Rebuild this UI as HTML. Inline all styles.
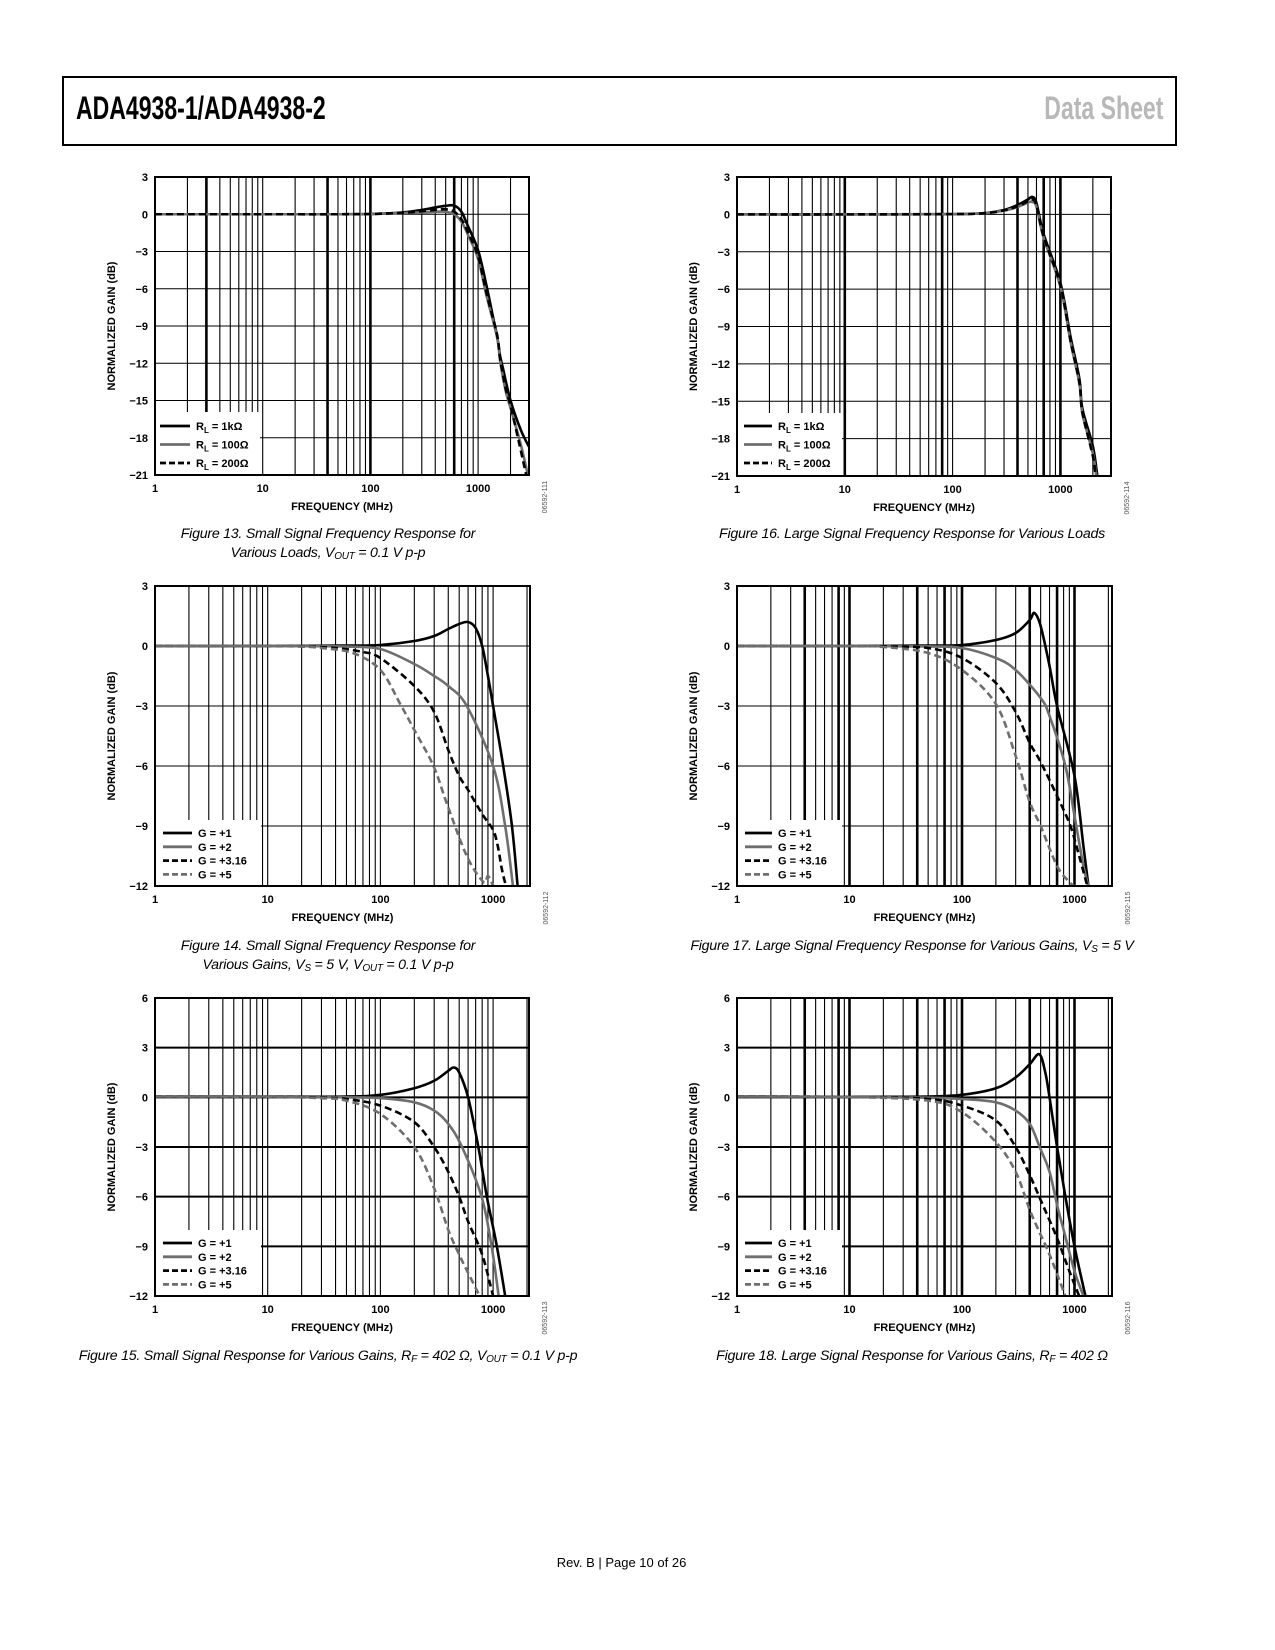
<!DOCTYPE html>
<html><head><meta charset="utf-8">
<style>
html,body{margin:0;padding:0;background:#fff;}
body{width:1275px;height:1650px;position:relative;overflow:hidden;font-family:"Liberation Sans",sans-serif;}
#hdr{position:absolute;left:62px;top:76px;width:1111px;height:66px;border:2px solid #000;}
#title{position:absolute;left:12px;top:12px;font-weight:bold;font-size:32px;transform:scaleX(0.72);transform-origin:left top;letter-spacing:0px;white-space:nowrap;}
#ds{position:absolute;right:12px;top:12px;font-weight:bold;font-size:32px;color:#b8b8b8;transform:scaleX(0.72);transform-origin:right top;white-space:nowrap;}
#footer{position:absolute;left:0;width:1243px;top:1555px;text-align:center;font-size:13px;}
svg{position:absolute;left:0;top:0;}
.cap{font-family:"Liberation Sans",sans-serif;font-style:italic;font-size:14.2px;letter-spacing:-0.25px;}
</style></head>
<body>
<div id="hdr">
  <div id="title">ADA4938-1/ADA4938-2</div>
  <div id="ds">Data Sheet</div>
</div>
<div id="footer">Rev. B | Page 10 of 26</div>
<svg id="page" width="1275" height="1650" xmlns="http://www.w3.org/2000/svg"></svg>
<script>
// ---------- Figure 13 ----------
const f13_freq_1k   = [1,10,50,100,200,300,400,500,600,700,800,1000,1200,1400,1500,1600,1700,2000,2500,3000];
const f13_gain_1k   = [0,0,0,0.02,0.15,0.35,0.55,0.68,0.7,0.2,-0.9,-2.9,-5.8,-8.6,-9.8,-11.4,-12.4,-15,-17.4,-18.8];
const f13_freq_100  = [1,10,50,100,200,300,400,500,600,700,800,1000,1200,1500,1600,1800,2000,2500,2900];
const f13_gain_100  = [0,0,0,0.02,0.1,0.15,0.2,0.2,0,-0.6,-1.6,-3.6,-6.6,-9.9,-11.8,-14.2,-15.6,-18.6,-21];
const f13_freq_200  = [1,10,50,100,200,300,400,500,600,700,800,1000,1200,1500,1600,1800,2000,2400,2800];
const f13_gain_200  = [0,0,0,0.02,0.12,0.25,0.35,0.4,0.2,-0.4,-1.4,-3.4,-6.4,-9.7,-11.6,-14,-15.4,-18.4,-21];
// ---------- Figure 14 ----------
const f14_freq_g1   = [1,10,50,100,200,300,400,500,600,700,800,900,1000,1230,1470,1650];
const f14_gain_g1   = [0,0,0.02,0.05,0.25,0.5,0.85,1.1,1.2,0.9,0,-1.5,-3,-6,-9,-12];
const f14_freq_g2   = [1,10,30,50,100,200,300,400,584,1000,1280,1500];
const f14_gain_g2   = [0,0,-0.01,-0.03,-0.15,-0.9,-1.5,-2.0,-3,-6,-9,-12];
const f14_freq_g316 = [1,10,20,40,70,100,200,300,400,500,600,800,1000,1100,1200,1300];
const f14_gain_g316 = [0,0,-0.02,-0.1,-0.3,-0.6,-2,-3.3,-5.2,-6.5,-7.2,-8.4,-9.2,-10,-11.2,-12];
const f14_freq_g5   = [1,10,20,30,57,100,150,200,296,390,584,820,900,1000];
const f14_gain_g5   = [0,0,-0.03,-0.1,-0.35,-1.2,-2.9,-4.2,-6,-7.9,-10.5,-11.8,-11.5,-12];
// ---------- Figure 15 ----------
const f15_freq_g1   = [1,10,50,100,200,300,400,446,500,600,740,880,1080,1280];
const f15_gain_g1   = [0.05,0.05,0.05,0.15,0.55,1.0,1.6,1.8,1.5,0,-3,-6,-9,-12];
const f15_freq_g2   = [1,10,50,100,200,300,400,530,790,970,1120];
const f15_gain_g2   = [0.05,0.05,0,-0.05,-0.3,-0.8,-1.6,-3,-6,-9,-12];
const f15_freq_g316 = [1,10,30,50,100,200,300,400,500,600,800,1000];
const f15_gain_g316 = [0.05,0.03,-0.02,-0.1,-0.5,-1.5,-3,-4.5,-6,-7.5,-9.5,-12];
const f15_freq_g5   = [1,10,30,50,100,200,300,400,500,600,800];
const f15_gain_g5   = [0.05,0.03,-0.05,-0.2,-1.0,-3,-5.5,-8,-9.5,-10.6,-12.3];
// ---------- Figure 16 ----------
const f16_freq_1k   = [1,10,100,200,300,400,500,550,600,700,1000,1240,1500,1600,2000,2200];
const f16_gain_1k   = [0,0,0.02,0.1,0.35,0.75,1.2,1.4,0.9,-1.6,-5.5,-9.8,-13.2,-15.6,-18.6,-21];
const f16_freq_100  = [1,10,100,200,300,400,500,550,600,700,1000,1240,1500,1600,2000,2150];
const f16_gain_100  = [0,0,0.02,0.1,0.3,0.6,0.95,1.0,0.6,-1.9,-5.8,-10.2,-13.6,-16.0,-19.2,-21];
const f16_freq_200  = [1,10,100,200,300,400,500,550,600,700,1000,1240,1500,1600,2000,2120];
const f16_gain_200  = [0,0,0.02,0.1,0.32,0.65,1.05,1.2,0.7,-1.8,-5.7,-10.1,-13.5,-15.9,-19.4,-21];
// ---------- Figure 17 ----------
const f17_freq_g1   = [1,10,50,100,200,300,400,440,500,600,700,1000,1200,1330];
const f17_gain_g1   = [0,0,0.02,0.05,0.3,0.65,1.3,1.65,1.0,-1,-3,-6.5,-10,-12];
const f17_freq_g2   = [1,10,50,100,200,300,500,600,830,1000,1200,1330];
const f17_gain_g2   = [0,0,-0.02,-0.1,-0.6,-1.2,-2.6,-3.5,-6,-8.5,-11,-12];
const f17_freq_g316 = [1,10,20,50,100,200,300,400,500,700,920,1100,1300];
const f17_gain_g316 = [0,0,-0.02,-0.1,-0.6,-1.85,-3.3,-4.85,-5.8,-7.5,-9,-10.5,-12];
const f17_freq_g5   = [1,10,20,50,100,200,300,400,500,700,900,1000];
const f17_gain_g5   = [0,0,-0.05,-0.35,-1.2,-2.9,-5.5,-7.8,-9,-11,-11.8,-12];
// ---------- Figure 18 ----------
const f18_freq_g1   = [1,10,50,100,200,300,400,487,550,600,700,830,1000,1250];
const f18_gain_g1   = [0.05,0.03,0.05,0.15,0.55,1.2,2.0,2.6,1.5,0,-3,-6,-9,-12];
const f18_freq_g2   = [1,10,50,100,200,300,400,490,600,700,800,1000,1200];
const f18_gain_g2   = [0.05,0.02,-0.02,-0.1,-0.3,-0.8,-1.6,-3,-4.5,-6.5,-8,-10.5,-12];
const f18_freq_g316 = [1,10,50,100,200,300,400,500,700,900,1100];
const f18_gain_g316 = [0.05,0.02,-0.1,-0.5,-1.4,-3,-4.7,-6.2,-8.5,-10.5,-12];
const f18_freq_g5   = [1,10,50,100,200,300,400,500,600,830];
const f18_gain_g5   = [0.05,0.02,-0.2,-0.9,-2.7,-4.5,-6.8,-8.3,-9.5,-12];

const xTickLabels = ["1","10","100","1000"];
const yTicks_21 = [3,0,-3,-6,-9,-12,-15,-18,-21];
const yTicks_12 = [3,0,-3,-6,-9,-12];
const yTicks_6  = [6,3,0,-3,-6,-9,-12];
const legendLoads = ["1kΩ","100Ω","200Ω"];
const legendGains = ["G = +1","G = +2","G = +3.16","G = +5"];

const NS = "http://www.w3.org/2000/svg";
const svg = document.getElementById('page');
function mk(tag, attrs, parent){
  const e = document.createElementNS(NS, tag);
  for (const k in attrs) e.setAttribute(k, attrs[k]);
  (parent||svg).appendChild(e);
  return e;
}
const STY = [
  {stroke:'#000', dash:null},
  {stroke:'#6e6e6e', dash:null},
  {stroke:'#000', dash:'7,4'},
  {stroke:'#6e6e6e', dash:'7,4'}
];

function chart(cfg){
  const g = mk('g', {});
  
  
  const L=cfg.left, T=cfg.top, W=cfg.width, H=cfg.height;
  const dec = cfg.decade;
  const xs = f => L + dec*Math.log10(f);
  const ys = v => T + (cfg.ymax - v)/(cfg.ymax - cfg.ymin)*H;
  const xmax = Math.pow(10, W/dec);
  const legTop = T + H - cfg.legH, legRight = L + cfg.legW;
  const cid = 'clip'+cfg.name;
  const cp = mk('clipPath', {id:cid}, g); mk('rect',{x:L,y:T,width:W,height:H},cp);
  for (let d=0; d<4; d++) for (let m=1; m<10; m++){
    const f = m*Math.pow(10,d);
    if (f<=1 || f>=xmax) continue;
    const x = xs(f);
    const thick = cfg.thick.indexOf(f)>=0;
    const y2 = x < legRight ? legTop : T+H;
    const ln = mk('line',{x1:x,x2:x,y1:T,y2:y2,stroke:'#000','stroke-width':thick?2.6:1.1},g);
    
    
  }
  cfg.yticks.forEach(v=>{
    const y = ys(v);
    const x1 = y > legTop ? legRight : L;
    const ln = mk('line',{x1:x1,x2:L+W,y1:y,y2:y,stroke:'#000','stroke-width':cfg.hw},g);
    
    
    const t = mk('text',{x:L-7,y:y+4,'text-anchor':'end','font-size':'11','font-weight':'bold'},g);
    t.textContent = (v<0?'\u2212'+(-v):''+v);
    
    
  });
  xTickLabels.forEach((s,i)=>{
    const t = mk('text',{x:xs(Math.pow(10,i)),y:T+H+17,'text-anchor':'middle','font-size':'11','font-weight':'bold'},g);
    t.textContent = s;
    
    
  });
  cfg.series.forEach((s,i)=>{
    const pts = s.f.map((f,j)=>[xs(f), ys(s.v[j])]);
    let d = 'M'+pts[0][0]+','+pts[0][1];
    for (let j=0;j<pts.length-1;j++){
      const p0=pts[Math.max(0,j-1)], p1=pts[j], p2=pts[j+1], p3=pts[Math.min(pts.length-1,j+2)];
      const c1=[p1[0]+(p2[0]-p0[0])/6, p1[1]+(p2[1]-p0[1])/6];
      const c2=[p2[0]-(p3[0]-p1[0])/6, p2[1]-(p3[1]-p1[1])/6];
      d += ' C'+c1[0]+','+c1[1]+' '+c2[0]+','+c2[1]+' '+p2[0]+','+p2[1];
    }
    const st = STY[s.style];
    const p = mk('path',{d:d,fill:'none',stroke:st.stroke,'stroke-width':2.6,'clip-path':'url(#'+cid+')'},g);
    if (st.dash) p.setAttribute('stroke-dasharray', st.dash);
    
    
  });
  const b = mk('rect',{x:L,y:T,width:W,height:H,fill:'none',stroke:'#000','stroke-width':2},g);
  
  
  const lg = mk('g',{},g);
  
  
  cfg.series.forEach((s,i)=>{
    const y = cfg.legY0 + i*cfg.legDy;
    const st = STY[s.style];
    const ln = mk('line',{x1:L+cfg.legX1,x2:L+cfg.legX2,y1:y,y2:y,stroke:st.stroke,'stroke-width':2.8},lg);
    if (st.dash) ln.setAttribute('stroke-dasharray','6,3');
    
    
    const t = mk('text',{x:L+cfg.legX2+6,y:y+4,'font-size':'11','font-weight':'bold'},lg);
    if (cfg.loads){
      t.appendChild(document.createTextNode('R'));
      const sub = mk('tspan',{dy:3,'font-size':'8'},t); sub.textContent='L';
      const rest = mk('tspan',{dy:-3},t); rest.textContent=' = '+s.label;
    } else t.textContent = s.label;
    
    
  });
  const xt = mk('text',{x:L+W/2,y:T+H+35,'text-anchor':'middle','font-size':'11','font-weight':'bold'},g);
  xt.textContent='FREQUENCY (MHz)';
  
  
  const yx = L-40, yy = T+H/2;
  const yt = mk('text',{x:yx,y:yy,'text-anchor':'middle','font-size':'11','font-weight':'bold',transform:'rotate(-90 '+yx+' '+yy+')'},g);
  yt.textContent='NORMALIZED GAIN (dB)';
  
  
  const cx = L+W+18, cy = T+H+22;
  const ct = mk('text',{x:cx,y:cy,'text-anchor':'middle','font-size':'7',fill:'#555',transform:'rotate(-90 '+cx+' '+cy+')'},g);
  ct.textContent = cfg.code;
  
  
  cfg.caption.forEach((c,i)=>{
    const t = mk('text',{x:cfg.capX,y:cfg.capY+i*19,'text-anchor':'middle',class:'cap'},g);
    t.innerHTML = c;
    
    
  });
}

const sub = s => '<tspan font-size="10" dy="2">'+s+'</tspan><tspan dy="-2">';
const loadsSer = (a,b,c,d,e,f)=>[
  {f:a,v:b,style:0,label:legendLoads[0]},
  {f:e,v:f,style:2,label:legendLoads[2]},
  {f:c,v:d,style:1,label:legendLoads[1]}];
function gainSer(a,b,c,d,e,f,g,h){
  return [{f:a,v:b,style:0,label:legendGains[0]},{f:c,v:d,style:1,label:legendGains[1]},
          {f:e,v:f,style:2,label:legendGains[2]},{f:g,v:h,style:3,label:legendGains[3]}];
}

(function(){
  const s = loadsSer(f13_freq_1k,f13_gain_1k,f13_freq_100,f13_gain_100,f13_freq_200,f13_gain_200);
  const ord=[s[0],s[2],s[1]];
  chart({name:'figure-13-chart',left:155,top:177,width:374,height:298,decade:107.7,ymax:3,ymin:-21,
    yticks:yTicks_21,hw:1.1,thick:[3,40,100,600],series:ord,loads:true,legY0:426,code:'06592-111',
    capX:328,capY:538,caption:['Figure 13. Small Signal Frequency Response for','Various Loads, V'+sub('OUT')+' = 0.1 V p-p</tspan>'],
    legW:105,legH:63,legX1:5,legX2:35,legDy:18.5});
})();
(function(){
  const s = loadsSer(f16_freq_1k,f16_gain_1k,f16_freq_100,f16_gain_100,f16_freq_200,f16_gain_200);
  const ord=[s[0],s[2],s[1]];
  chart({name:'figure-16-chart',left:737,top:177,width:374,height:299,decade:107.8,ymax:3,ymin:-21,
    yticks:yTicks_21,hw:1.1,thick:[10,80,400,700,1000],series:ord,loads:true,legY0:426,code:'06592-114',
    capX:912,capY:538,caption:['Figure 16. Large Signal Frequency Response for Various Loads'],
    legW:105,legH:63,legX1:7,legX2:35,legDy:18.5});
})();
chart({name:'figure-14-chart',left:155,top:586,width:375,height:300,decade:112.7,ymax:3,ymin:-12,
  yticks:yTicks_12,hw:1.1,thick:[],series:gainSer(f14_freq_g1,f14_gain_g1,f14_freq_g2,f14_gain_g2,f14_freq_g316,f14_gain_g316,f14_freq_g5,f14_gain_g5),
  loads:false,legY0:833,legDy:13.8,legW:106,legH:66,legX1:8,legX2:37,code:'06592-112',
  capX:328,capY:950,caption:['Figure 14. Small Signal Frequency Response for','Various Gains, V'+sub('S')+' = 5 V, V</tspan>'+sub('OUT')+' = 0.1 V p-p</tspan>']});
chart({name:'figure-17-chart',left:737,top:586,width:375,height:300,decade:112.5,ymax:3,ymin:-12,
  yticks:yTicks_12,hw:1.1,thick:[4,8,10,40,70,100,400,700,1000],series:gainSer(f17_freq_g1,f17_gain_g1,f17_freq_g2,f17_gain_g2,f17_freq_g316,f17_gain_g316,f17_freq_g5,f17_gain_g5),
  loads:false,legY0:833,legDy:13.8,legW:105,legH:66,legX1:8,legX2:35,code:'06592-115',
  capX:912,capY:950,caption:['Figure 17. Large Signal Frequency Response for Various Gains, V'+sub('S')+' = 5 V</tspan>']});
chart({name:'figure-15-chart',left:155,top:998,width:374,height:298,decade:112.7,ymax:6,ymin:-12,
  yticks:yTicks_6,hw:2,thick:[],series:gainSer(f15_freq_g1,f15_gain_g1,f15_freq_g2,f15_gain_g2,f15_freq_g316,f15_gain_g316,f15_freq_g5,f15_gain_g5),
  loads:false,legY0:1243,legDy:13.8,legW:106,legH:66,legX1:8,legX2:37,code:'06592-113',
  capX:328,capY:1360,caption:['Figure 15. Small Signal Response for Various Gains, R'+sub('F')+' = 402 Ω, V</tspan>'+sub('OUT')+' = 0.1 V p-p</tspan>']});
chart({name:'figure-18-chart',left:737,top:998,width:375,height:298,decade:112.5,ymax:6,ymin:-12,
  yticks:yTicks_6,hw:2,thick:[4,8,10,40,70,100,400,700,1000],series:gainSer(f18_freq_g1,f18_gain_g1,f18_freq_g2,f18_gain_g2,f18_freq_g316,f18_gain_g316,f18_freq_g5,f18_gain_g5),
  loads:false,legY0:1243,legDy:13.8,legW:105,legH:66,legX1:8,legX2:35,code:'06592-116',
  capX:912,capY:1360,caption:['Figure 18. Large Signal Response for Various Gains, R'+sub('F')+' = 402 Ω</tspan>']});
</script>
</body></html>
